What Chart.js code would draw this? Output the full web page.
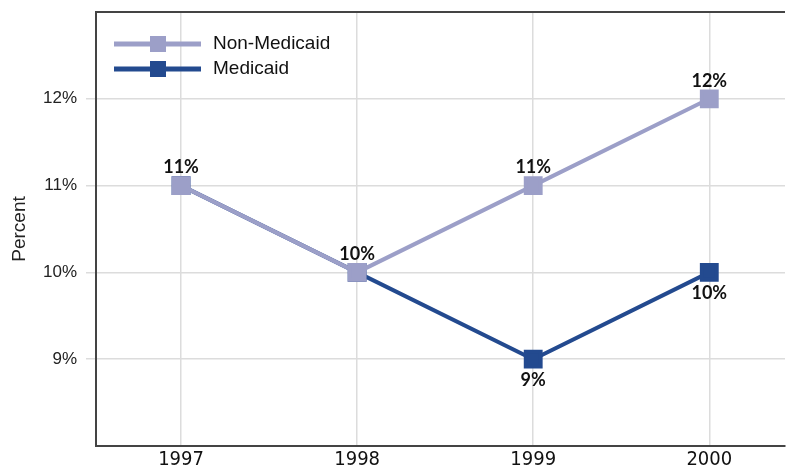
<!DOCTYPE html>
<html>
<head>
<meta charset="utf-8">
<script src="https://cdn.jsdelivr.net/npm/chart.js@4/dist/chart.umd.min.js"></script>
<style>
  html, body { margin: 0; padding: 0; background: #fff; }
  #wrap { width: 787px; height: 472px; position: relative; }
</style>
</head>
<body>
<div id="wrap"><canvas id="c" width="787" height="472"></canvas></div>
<script>
const years = [1997, 1998, 1999, 2000];
const nonMedicaid = [11, 10, 11, 12];
const medicaid = [11, 10, 9, 10];
const yTicks = [9, 10, 11, 12];
const seriesNames = ['Non-Medicaid', 'Medicaid'];
// which labels to show (Medicaid labels at 1997/1998 coincide with Non-Medicaid)
const showLabels = [[true, true, true, true], [false, false, true, true]];

const colNon = '#9c9fc8';
const colMed = '#234a8f';

const toPts = arr => arr.map((v, i) => ({ x: years[i], y: v }));

const labelPlugin = {
  id: 'labels',
  afterDatasetsDraw(chart) {
    const ctx = chart.ctx;
    ctx.save();
    ctx.font = 'bold 18px Lato, "Open Sans", sans-serif';
    ctx.fillStyle = '#111';
    ctx.textAlign = 'center';
    ctx.textBaseline = 'middle';
    chart.data.datasets.forEach((ds, di) => {
      const meta = chart.getDatasetMeta(di);
      meta.data.forEach((pt, i) => {
        if (!showLabels[di][i]) return;
        const off = di === 0 ? -18 : 21;
        ctx.fillText(ds.data[i].y + '%', pt.x, pt.y + off);
      });
    });
    ctx.restore();
  }
};

const legendPlugin = {
  id: 'customLegend',
  afterDraw(chart) {
    const ctx = chart.ctx;
    ctx.save();
    chart.data.datasets.forEach((ds, di) => {
      const y = 44 + di * 25;
      ctx.strokeStyle = ds.borderColor;
      ctx.lineWidth = 5;
      ctx.beginPath();
      ctx.moveTo(114, y);
      ctx.lineTo(201, y);
      ctx.stroke();
      ctx.fillStyle = ds.borderColor;
      ctx.fillRect(150, y - 8, 16, 16);
      ctx.fillStyle = '#111';
      ctx.font = '19px "Liberation Sans", Arial, sans-serif';
      ctx.textAlign = 'left';
      ctx.textBaseline = 'middle';
      ctx.fillText(ds.label, 213, y);
    });
    ctx.restore();
  }
};

new Chart(document.getElementById('c'), {
  type: 'line',
  data: {
    datasets: [
      { label: seriesNames[0], data: toPts(nonMedicaid), borderColor: colNon, backgroundColor: colNon,
        borderWidth: 4, pointStyle: 'rect', pointRadius: 10.5, pointHoverRadius: 10.5, order: 0 },
      { label: seriesNames[1], data: toPts(medicaid), borderColor: colMed, backgroundColor: colMed,
        borderWidth: 4, pointStyle: 'rect', pointRadius: 10.5, pointHoverRadius: 10.5, order: 1 }
    ]
  },
  options: {
    responsive: false,
    animation: false,
    events: [],
    layout: { autoPadding: false, padding: { top: 12, right: 2, left: 0, bottom: 0 } },
    plugins: { legend: { display: false }, tooltip: { enabled: false } },
    scales: {
      x: {
        type: 'linear',
        min: 1996.517,
        max: 2000.43,
        afterBuildTicks(s) { s.ticks = years.map(v => ({ value: v })); },
        afterFit(s) { s.height = 26; s.paddingLeft = 0; s.paddingRight = 0; },
        ticks: {
          callback: v => String(v),
          font: { family: '"Liberation Sans Narrow", "DejaVu Sans Condensed", "Liberation Sans", sans-serif', size: 20 },
          color: '#111',
          padding: 2,
          maxRotation: 0
        },
        grid: { color: '#dcdcdc', lineWidth: 1.5, drawTicks: false },
        border: { color: '#444', width: 2 }
      },
      y: {
        min: 8,
        max: 13,
        afterBuildTicks(s) { s.ticks = yTicks.map(v => ({ value: v })); },
        afterFit(s) { s.width = 96; s.paddingTop = 0; s.paddingBottom = 0; },
        ticks: {
          callback: v => v + '%',
          font: { family: '"Liberation Sans", Arial, sans-serif', size: 17 },
          color: '#222',
          padding: 9
        },
        grid: { color: '#dcdcdc', lineWidth: 1.5, tickLength: 10, tickColor: '#dcdcdc' },
        border: { color: '#444', width: 2 },
        title: {
          display: true,
          text: 'Percent',
          font: { family: '"Liberation Sans", Arial, sans-serif', size: 19 },
          color: '#222',
          padding: { top: 8, bottom: 0 }
        }
      }
    }
  },
  plugins: [labelPlugin, legendPlugin, {
    id: 'topBorder',
    afterDraw(chart) {
      const a = chart.chartArea, ctx = chart.ctx;
      ctx.save();
      ctx.strokeStyle = '#444';
      ctx.lineWidth = 2;
      ctx.beginPath();
      ctx.moveTo(a.left - 1, a.top);
      ctx.lineTo(a.right, a.top);
      ctx.stroke();
      ctx.restore();
    }
  }]
});
</script>
</body>
</html>
